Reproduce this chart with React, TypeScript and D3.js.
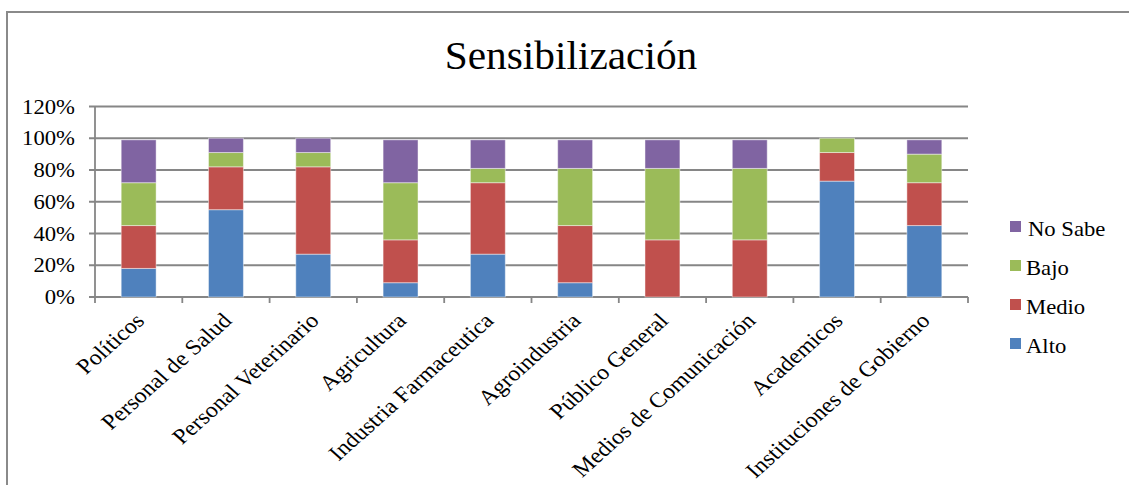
import React from "react";
import * as d3 from "d3";

const categories = [
  "Políticos",
  "Personal de Salud",
  "Personal Veterinario",
  "Agricultura",
  "Industria Farmaceutica",
  "Agroindustria",
  "Público General",
  "Medios de Comunicación",
  "Academicos",
  "Instituciones de Gobierno",
];
const seriesNames = ["Alto", "Medio", "Bajo", "No Sabe"];
const alto = [18, 55, 27, 9, 27, 9, 0, 0, 73, 45];
const medio = [27, 27, 55, 27, 45, 36, 36, 36, 18, 27];
const bajo = [27, 9, 9, 36, 9, 36, 45, 45, 9, 18];
const noSabe = [27, 9, 9, 27, 18, 18, 18, 18, 0, 9];
const yTicks = [0, 20, 40, 60, 80, 100, 120];
const colors = ["#4F81BD", "#C0504D", "#9BBB59", "#8064A2"];
const title = "Sensibilización";

const W = 1129;
const H = 485;
const FONT = "'Liberation Serif', 'Times New Roman', serif";
const SX = 1.08;
const LSX = 1.12;

export default function App() {
  const left = 95;
  const right = 968;
  const top = 106.5;
  const bottom = 297;

  const x = d3.scaleBand<string>().domain(categories).range([left, right]).paddingInner(0.6).paddingOuter(0.3);
  const band = (right - left) / categories.length;
  const y = d3.scaleLinear().domain([0, 120]).range([bottom, top]);

  const rows = categories.map((c, i) => ({
    cat: c,
    Alto: alto[i],
    Medio: medio[i],
    Bajo: bajo[i],
    "No Sabe": noSabe[i],
  }));
  const stack = d3.stack<any>().keys(seriesNames)(rows);

  const grid = "#868686";

  return (
    <svg width={W} height={H} style={{ position: "absolute", left: 0, top: 0, background: "#fff" }}>
      <rect x={7} y={12} width={1200} height={600} fill="#fff" stroke="#8a8a8a" strokeWidth={2} />
      <text
        transform={`translate(571 69) scale(1.06 1)`}
        textAnchor="middle"
        fontFamily={FONT}
        fontSize={39}
        fill="#000"
      >
        {title}
      </text>
      {/* gridlines */}
      {yTicks.map((t) => (
        <g key={t}>
          <line x1={left - 6} x2={right} y1={y(t)} y2={y(t)} stroke={grid} strokeWidth={1.8} />
          <text
            transform={`translate(75 ${y(t) + 7}) scale(${SX} 1)`}
            textAnchor="end"
            fontFamily={FONT}
            fontSize={21}
            fill="#000"
          >
            {t}%
          </text>
        </g>
      ))}
      {/* axes */}
      <line x1={left} x2={left} y1={top} y2={bottom} stroke={grid} strokeWidth={1.8} />
      {d3.range(categories.length + 1).map((i) => (
        <line key={i} x1={left + i * band} x2={left + i * band} y1={bottom} y2={bottom + 6} stroke={grid} strokeWidth={1.8} />
      ))}
      {/* bars */}
      {stack.map((s, si) => (
        <g key={s.key} fill={colors[si]}>
          {s.map((d, i) =>
            d[1] - d[0] > 0 ? (
              <rect
                key={i}
                x={x(categories[i])}
                width={x.bandwidth()}
                y={y(d[1])}
                height={y(d[0]) - y(d[1])}
                stroke="#ffffff"
                strokeOpacity={0.45}
                strokeWidth={1}
              />
            ) : null
          )}
        </g>
      ))}
      {/* category labels */}
      {categories.map((c) => {
        const cx = (x(c) as number) + x.bandwidth() / 2 + 7;
        const cy = bottom + 25;
        return (
          <text
            key={c}
            transform={`translate(${cx} ${cy}) scale(${LSX} 1) rotate(-45)`}
            textAnchor="end"
            fontFamily={FONT}
            fontSize={21.5}
            fill="#000"
          >
            {c}
          </text>
        );
      })}
      {/* legend */}
      {seriesNames
        .slice()
        .reverse()
        .map((n, i) => {
          const by = 236 + i * 39;
          const ci = seriesNames.indexOf(n);
          return (
            <g key={n}>
              <rect x={1010} y={by - 15} width={11} height={11} fill={colors[ci]} />
              <text
                transform={`translate(${n === "No Sabe" ? 1028 : 1026} ${by}) scale(${SX} 1)`}
                fontFamily={FONT}
                fontSize={21}
                fill="#000"
              >
                {n}
              </text>
            </g>
          );
        })}
    </svg>
  );
}
